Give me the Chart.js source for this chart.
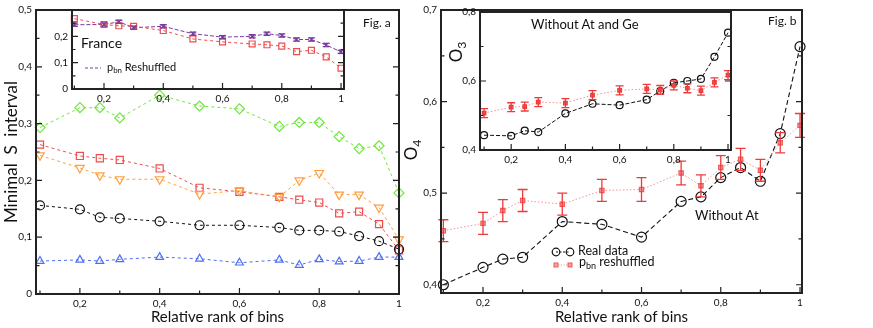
<!DOCTYPE html>
<html>
<head>
<meta charset="utf-8">
<script src="https://cdn.jsdelivr.net/npm/chart.js@4.4.0/dist/chart.umd.min.js"></script>
<style>
  body { margin: 0; background: #fff; font-family: Lato, sans-serif; }
  #wrap { position: relative; width: 873px; height: 328px; overflow: hidden; }
  canvas, .lbl { position: absolute; }
  .lbl { color: #111; white-space: nowrap; line-height: 1; }
  .lbl sub { font-size: 0.72em; vertical-align: -0.3em; line-height: 0; }
  .rot { transform: rotate(-90deg); text-align: center; }
</style>
</head>
<body>
<div id="wrap">
  <canvas id="mainA" width="420" height="328" style="left:0;top:0"></canvas>
  <canvas id="insetA" width="320" height="110" style="left:40px;top:0"></canvas>
  <canvas id="mainB" width="473" height="328" style="left:400px;top:0"></canvas>
  <canvas id="insetB" width="310" height="170" style="left:440px;top:0"></canvas>

  <div class="lbl" style="left:363px;top:17px;font-size:12px">Fig. a</div>
  <div class="lbl" style="left:81px;top:36px;font-size:14px">France</div>
  <svg class="lbl" style="left:84px;top:64px" width="18" height="8"><line x1="1" y1="4" x2="17" y2="4" stroke="#7a3d9e" stroke-width="1.2" stroke-dasharray="3,2"/></svg>
  <div class="lbl" style="left:107px;top:61px;font-size:11px">p<sub>bn</sub> Reshuffled</div>

  <div class="lbl" style="left:531px;top:18px;font-size:13px">Without At and Ge</div>
  <div class="lbl rot" style="left:441px;top:42px;width:30px;height:20px;line-height:20px;font-size:17px">O<sub>3</sub></div>
  <div class="lbl rot" style="left:396px;top:140px;width:30px;height:20px;line-height:20px;font-size:17px">O<sub>4</sub></div>
  <div class="lbl" style="left:768px;top:15px;font-size:12px">Fig. b</div>
  <div class="lbl" style="left:695px;top:209px;font-size:13px">Without At</div>

  <svg class="lbl" style="left:551px;top:246px" width="24" height="12"><line x1="5" y1="6" x2="19" y2="6" stroke="#111" stroke-width="1" stroke-dasharray="2,1.5"/><circle cx="5" cy="6" r="3.8" fill="none" stroke="#111" stroke-width="1.2"/><circle cx="19" cy="6" r="3.8" fill="none" stroke="#111" stroke-width="1.2"/></svg>
  <div class="lbl" style="left:578px;top:245px;font-size:12.5px">Real data</div>
  <svg class="lbl" style="left:551px;top:259px" width="24" height="12"><line x1="5" y1="6" x2="19" y2="6" stroke="#f59090" stroke-width="1" stroke-dasharray="1,1.5"/><rect x="3" y="4" width="4" height="4" fill="#f7a0a0" stroke="#f05a5a"/><rect x="17" y="4" width="4" height="4" fill="#f7a0a0" stroke="#f05a5a"/></svg>
  <div class="lbl" style="left:579px;top:256px;font-size:12.5px">p<sub>bn</sub> reshuffled</div>
</div>

<script>
// 横軸（ビンの相対順位）
const rank = [0.1, 0.2, 0.25, 0.3, 0.4, 0.5, 0.6, 0.7, 0.75, 0.8, 0.85, 0.9, 0.95, 1];

// Fig. a 本体
const seriesDiamond = [0.293, 0.328, 0.328, 0.310, 0.350, 0.331, 0.326, 0.295, 0.302, 0.302, 0.277, 0.256, 0.261, 0.178];
const seriesSquare  = [0.263, 0.243, 0.239, 0.236, 0.221, 0.187, 0.180, 0.171, 0.166, 0.161, 0.142, 0.145, 0.123, 0.077];
const seriesTriDown = [0.244, 0.222, 0.209, 0.202, 0.202, 0.176, 0.182, 0.171, 0.200, 0.213, 0.175, 0.175, 0.152, 0.096];
const seriesCircle  = [0.156, 0.149, 0.135, 0.133, 0.128, 0.121, 0.121, 0.117, 0.112, 0.112, 0.110, 0.102, 0.093, 0.079];
const seriesTriUp   = [0.058, 0.060, 0.058, 0.061, 0.065, 0.062, 0.055, 0.060, 0.051, 0.061, 0.057, 0.058, 0.065, 0.065];

// Fig. a 挿入図（France）
const franceReal = [0.267, 0.245, 0.240, 0.238, 0.222, 0.190, 0.179, 0.171, 0.168, 0.163, 0.142, 0.147, 0.122, 0.079];
const francePbn  = [0.244, 0.245, 0.255, 0.233, 0.238, 0.210, 0.197, 0.200, 0.210, 0.203, 0.188, 0.188, 0.167, 0.141];
const francePbnErr = [0.006, 0.006, 0.006, 0.006, 0.006, 0.006, 0.006, 0.006, 0.006, 0.006, 0.006, 0.006, 0.006, 0.006];

// Fig. b 本体（Without At）
const realData = [0.400, 0.419, 0.428, 0.430, 0.469, 0.466, 0.452, 0.491, 0.496, 0.517, 0.528, 0.513, 0.565, 0.660];
const pbnShuffled = [0.459, 0.467, 0.481, 0.492, 0.488, 0.503, 0.504, 0.522, 0.508, 0.528, 0.537, 0.525, 0.555, 0.574];
const pbnShuffledErr = [0.012, 0.012, 0.012, 0.012, 0.012, 0.012, 0.013, 0.013, 0.012, 0.013, 0.012, 0.012, 0.011, 0.013];

// Fig. b 挿入図（Without At and Ge）
const realNoGe = [0.443, 0.441, 0.456, 0.452, 0.506, 0.534, 0.530, 0.546, 0.571, 0.595, 0.600, 0.606, 0.670, 0.740];
const pbnNoGe  = [0.507, 0.524, 0.526, 0.539, 0.536, 0.559, 0.573, 0.577, 0.574, 0.587, 0.579, 0.572, 0.596, 0.617];
const pbnNoGeErr = [0.013, 0.013, 0.013, 0.013, 0.013, 0.013, 0.013, 0.013, 0.013, 0.013, 0.013, 0.013, 0.013, 0.013];

// 目盛り
const xTicks = [0.2, 0.4, 0.6, 0.8, 1];
const xMinor = [0.1, 0.3, 0.5, 0.7, 0.9];
const yTicksA = [0, 0.1, 0.2, 0.3, 0.4, 0.5];
const yMinorA = [0.05, 0.15, 0.25, 0.35, 0.45];
const yTicksInsetA = [0, 0.1, 0.2];
const yMinorInsetA = [0.05, 0.15, 0.25];
const yTicksB = [0.4, 0.5, 0.6, 0.7];
const yMinorB = [0.45, 0.55, 0.65];
const yTicksInsetB = [0.4, 0.6, 0.8];
const yMinorInsetB = [0.5, 0.7];

Chart.defaults.font.family = 'Lato';
Chart.defaults.color = '#111';

// 枠線と内向きの目盛り
const framePlugin = {
    id: 'frame',
    beforeDraw(chart, args, opts) {
        if (!opts.fill) return;
        const a = chart.chartArea;
        chart.ctx.save();
        chart.ctx.fillStyle = opts.fill;
        chart.ctx.fillRect(a.left, a.top, a.right - a.left, a.bottom - a.top);
        chart.ctx.restore();
    },
    afterDraw(chart, args, opts) {
        if (!opts.xMajor) return;
        const { ctx, chartArea: a, scales: { x, y } } = chart;
        ctx.save();
        ctx.strokeStyle = '#222';
        ctx.lineWidth = 1.2;
        ctx.beginPath();
        const xt = (vals, len) => vals.forEach(v => {
            const px = x.getPixelForValue(v);
            ctx.moveTo(px, a.bottom); ctx.lineTo(px, a.bottom - len);
        });
        const yt = (vals, len) => vals.forEach(v => {
            const py = y.getPixelForValue(v);
            ctx.moveTo(a.left, py); ctx.lineTo(a.left + len, py);
            ctx.moveTo(a.right, py); ctx.lineTo(a.right - len, py);
        });
        xt(opts.xMajor, 6); xt(opts.xMinor, 3.5);
        yt(opts.yMajor, 6); yt(opts.yMinor, 3.5);
        ctx.stroke();
        ctx.lineWidth = 2;
        ctx.strokeRect(a.left, a.top, a.right - a.left, a.bottom - a.top);
        ctx.restore();
    }
};

// エラーバー
const errorBarPlugin = {
    id: 'errorBars',
    afterDatasetsDraw(chart) {
        const { ctx, scales: { x, y } } = chart;
        chart.data.datasets.forEach(ds => {
            if (!ds.errors) return;
            ctx.save();
            ctx.strokeStyle = ds.errorColor;
            ctx.lineWidth = 1.3;
            ctx.beginPath();
            ds.data.forEach((p, i) => {
                const px = x.getPixelForValue(p.x);
                const top = y.getPixelForValue(p.y + ds.errors[i]);
                const bot = y.getPixelForValue(p.y - ds.errors[i]);
                ctx.moveTo(px, top); ctx.lineTo(px, bot);
                ctx.moveTo(px - ds.capHalf, top); ctx.lineTo(px + ds.capHalf, top);
                ctx.moveTo(px - ds.capHalf, bot); ctx.lineTo(px + ds.capHalf, bot);
            });
            ctx.stroke();
            ctx.restore();
        });
    }
};

Chart.register(framePlugin, errorBarPlugin);

const fmt = v => v === 0 ? '0' : v === 1 ? '1' : String(+v.toFixed(2)).replace('.', ',');

function series(values, color, style, extra) {
    return Object.assign({
        data: rank.map((x, i) => ({ x, y: values[i] })),
        borderColor: color,
        borderWidth: 1,
        borderDash: [3, 3],
        pointStyle: style,
        pointRadius: 4.5,
        pointBorderWidth: 1.2,
        pointBorderColor: color,
        pointBackgroundColor: 'rgba(0,0,0,0)',
        tension: 0,
        clip: false
    }, extra || {});
}

function makeChart(id, cfg) {
    return new Chart(document.getElementById(id), {
        type: 'line',
        data: { datasets: cfg.datasets },
        options: {
            responsive: false,
            animation: false,
            devicePixelRatio: 1,
            layout: { padding: cfg.padding },
            plugins: {
                legend: { display: false },
                tooltip: { enabled: false },
                frame: cfg.frame
            },
            scales: {
                x: {
                    type: 'linear', min: cfg.xMin, max: cfg.xMax,
                    grid: { display: false, drawTicks: false },
                    border: { display: false },
                    ticks: { font: { size: 10 }, padding: cfg.xPad, maxRotation: 0, autoSkip: false, callback: fmt },
                    afterBuildTicks: s => { s.ticks = cfg.frame.xMajor.map(v => ({ value: v })); },
                    afterFit: s => { s.height = cfg.xH; },
                    title: cfg.xTitle ? { display: true, text: cfg.xTitle, font: { size: 15 }, padding: { top: 0, bottom: 2 } } : { display: false }
                },
                y: {
                    type: 'linear', min: cfg.yMin, max: cfg.yMax,
                    grid: { display: false, drawTicks: false },
                    border: { display: false },
                    ticks: { font: { size: 10 }, padding: 4, autoSkip: false, callback: fmt },
                    afterBuildTicks: s => { s.ticks = cfg.yLabels.map(v => ({ value: v })); },
                    afterFit: s => { s.width = cfg.yW; },
                    title: cfg.yTitle ? { display: true, text: cfg.yTitle, font: { size: 17 }, padding: { top: 1, bottom: 0 } } : { display: false }
                }
            }
        }
    });
}

// Fig. a
makeChart('mainA', {
    padding: { top: 7, right: 21, left: 0, bottom: 0 },
    xMin: 0.09, xMax: 1.0, yMin: 0, yMax: 0.5,
    xH: 34, yW: 36, xPad: 4,
    xTitle: 'Relative rank of bins', yTitle: 'Minimal  S  interval',
    yLabels: yTicksA,
    frame: { xMajor: xTicks, xMinor: xMinor, yMajor: yTicksA, yMinor: yMinorA },
    datasets: [
        series(seriesTriUp, '#4f6ff0', 'triangle'),
        series(seriesCircle, '#111111', 'circle'),
        series(seriesTriDown, '#ffa040', 'triangle', { pointRotation: 180, pointRadius: 5 }),
        series(seriesSquare, '#f04c4c', 'rect', { pointRadius: 5 }),
        series(seriesDiamond, '#6ee83c', 'rectRot', { pointRadius: 5 })
    ]
});

makeChart('insetA', {
    padding: { top: 7, right: 16, left: 0, bottom: 0 },
    xMin: 0.092, xMax: 1.01, yMin: 0, yMax: 0.3,
    xH: 21, yW: 32, xPad: 4,
    yLabels: yTicksInsetA,
    frame: { fill: '#fff', xMajor: xTicks, xMinor: xMinor, yMajor: yTicksInsetA, yMinor: yMinorInsetA },
    datasets: [
        series(franceReal, '#f04c4c', 'rect', { pointRadius: 4.2 }),
        series(francePbn, '#7a3d9e', 'crossRot', {
            pointRadius: 3, borderDash: [4, 2],
            errors: francePbnErr, errorColor: '#7a3d9e', capHalf: 3.5
        })
    ]
});

// Fig. b
makeChart('mainB', {
    padding: { top: 7, right: 71, left: 0, bottom: 0 },
    xMin: 0.094, xMax: 1.005, yMin: 0.391, yMax: 0.7,
    xH: 35, yW: 41, xPad: 4,
    xTitle: 'Relative rank of bins',
    yLabels: yTicksB,
    frame: { xMajor: xTicks, xMinor: xMinor, yMajor: yTicksB, yMinor: yMinorB },
    datasets: [
        series(pbnShuffled, '#f59090', 'rect', {
            borderDash: [1.5, 2], pointRadius: 3, pointBorderColor: '#f05a5a', pointBackgroundColor: '#f7a0a0',
            errors: pbnShuffledErr, errorColor: '#ee3a3a', capHalf: 5
        }),
        series(realData, '#111111', 'circle', { pointRadius: 5, borderDash: [5, 3], borderWidth: 1.1 })
    ]
});

makeChart('insetB', {
    padding: { top: 12, right: 19, left: 0, bottom: 0 },
    xMin: 0.085, xMax: 1.011, yMin: 0.4, yMax: 0.8,
    xH: 20, yW: 40, xPad: 4,
    yLabels: yTicksInsetB,
    frame: { fill: '#fff', xMajor: xTicks, xMinor: xMinor, yMajor: yTicksInsetB, yMinor: yMinorInsetB },
    datasets: [
        series(pbnNoGe, '#f59090', 'rect', {
            borderDash: [1.5, 2], pointRadius: 2.5, pointBorderColor: '#f03a3a', pointBackgroundColor: '#f05a5a',
            errors: pbnNoGeErr, errorColor: '#ee3a3a', capHalf: 4
        }),
        series(realNoGe, '#111111', 'circle', { pointRadius: 3.5, borderDash: [4, 2] })
    ]
});
</script>
</body>
</html>
